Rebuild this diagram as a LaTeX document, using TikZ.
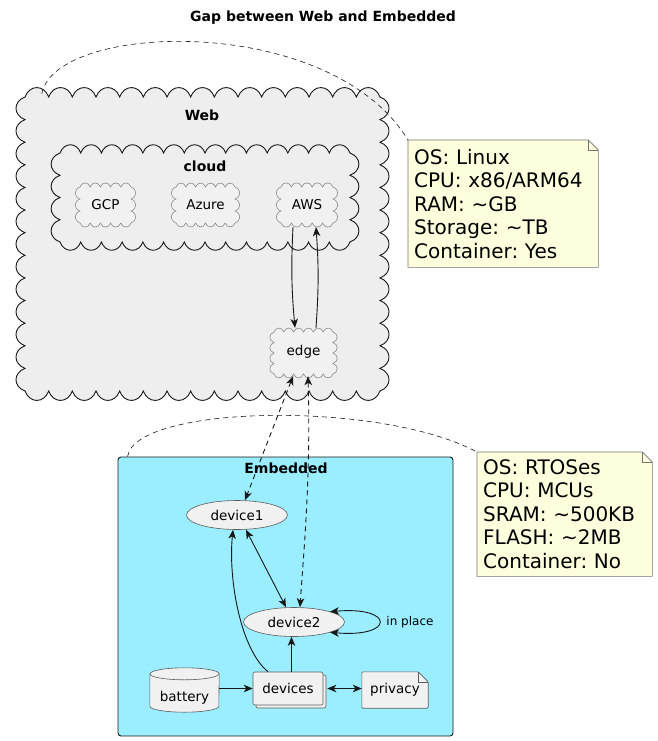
\documentclass[tikz,border=0pt]{standalone}
\usepackage{fontspec}
\setmainfont{DejaVu Sans}
\usetikzlibrary{arrows.meta,shapes.geometric,shadows,calc}
\definecolor{webfill}{HTML}{EEEEEE}
\definecolor{nodefill}{HTML}{F1F1F1}
\definecolor{embfill}{HTML}{9AEEFF}
\definecolor{notefill}{HTML}{FEFFDD}
\definecolor{ink}{HTML}{181818}
\definecolor{cloudline}{HTML}{888888}
\pgfdeclarelayer{contain}
\pgfdeclarelayer{shapebg}
\pgfsetlayers{contain,shapebg,main}
\frenchspacing
% scalloped rectangle: style, x1, y1, x2, y2, nx, ny
\newcommand\scallop[7]{%
 \path[#1] (#2,#3)
  \foreach \i in {1,...,#6}{ to[bend left=70,looseness=1.45] ({#2+(#4-#2)*\i/#6},#3) }
  \foreach \i in {1,...,#7}{ to[bend left=70,looseness=1.45] (#4,{#3+(#5-#3)*\i/#7}) }
  \foreach \i in {1,...,#6}{ to[bend left=70,looseness=1.45] ({#4-(#4-#2)*\i/#6},#5) }
  \foreach \i in {1,...,#7}{ to[bend left=70,looseness=1.45] (#2,{#5-(#5-#3)*\i/#7}) }
  -- cycle;}
\begin{document}
\begin{tikzpicture}[x=1pt,y=-1pt,
  >={Stealth[length=9pt,width=7.5pt,inset=2.5pt]},
  txt/.style={font=\fontsize{13.5}{16}\selectfont, inner sep=0pt},
  grouplbl/.style={font=\fontsize{14}{16}\selectfont\bfseries, inner sep=0pt},
  bigcloud/.style={draw=ink, line width=0.9pt, fill=webfill},
  smallcloud/.style={draw=cloudline, line width=0.6pt, fill=nodefill},
  box/.style={rectangle, inner sep=0pt},
  link/.style={draw=ink, line width=0.9pt},
  dlink/.style={link, dash pattern=on 5pt off 4pt},
  notebg/.style={draw=ink!60, fill=notefill, line width=0.6pt},
  notetxt/.style={rectangle, inner xsep=6pt, inner ysep=0pt, align=left,
    font=\fontsize{20}{23.5}\selectfont},
  dev/.style={ellipse, draw=ink!70, fill=nodefill, line width=0.6pt,
    minimum width=101pt, minimum height=29pt, inner sep=0pt,
    font=\fontsize{13.5}{16}\selectfont},
  comp/.style={rectangle, rounded corners=2pt, draw=ink!70, fill=nodefill,
    line width=0.6pt, minimum width=70pt, minimum height=33pt, inner sep=0pt,
    font=\fontsize{13.5}{16}\selectfont,
    copy shadow={shadow xshift=3pt, shadow yshift=-3pt}},
  shapeline/.style={draw=ink!70, fill=nodefill, line width=0.6pt}
]
\useasboundingbox (0,0) rectangle (658,741);

% title
\node[font=\fontsize{14}{16}\selectfont\bfseries, inner sep=0pt] (title) at (323,18) {Gap between Web and Embedded};

% ---------- containers ----------
\begin{pgfonlayer}{contain}
  \scallop{bigcloud}{25}{97}{380}{391}{15}{13}
  \node[box, minimum width=355pt, minimum height=294pt] (web) at (202.5,244) {};
  \scallop{bigcloud}{60}{153}{350}{242}{14}{4}
  \node[box, minimum width=290pt, minimum height=89pt] (cloudgrp) at (205,197.5) {};
  \node[rectangle, draw=ink, line width=0.9pt, fill=embfill, rounded corners=3pt,
        minimum width=335pt, minimum height=279pt, inner sep=0pt] (emb) at (285.5,596.5) {};
\end{pgfonlayer}
\node[grouplbl] (weblbl) at (202,115) {Web};
\node[grouplbl] (cloudlbl) at (205,166) {cloud};
\node[grouplbl] (emblbl) at (286,468) {Embedded};

% ---------- small clouds ----------
\begin{pgfonlayer}{shapebg}
  \scallop{smallcloud}{80}{187}{131}{223}{5}{3}
  \scallop{smallcloud}{176}{187}{235}{223}{6}{3}
  \scallop{smallcloud}{281}{187}{333}{223}{5}{3}
  \scallop{smallcloud}{274}{332}{333}{374}{6}{4}
\end{pgfonlayer}
\node[box, txt, minimum width=59pt, minimum height=44pt] (gcp) at (105.5,205) {GCP};
\node[box, txt, minimum width=67pt, minimum height=44pt] (azure) at (205.5,205) {Azure};
\node[box, txt, minimum width=60pt, minimum height=44pt] (aws) at (307,205) {AWS};
\node[box, txt, minimum width=67pt, minimum height=48pt] (edge) at (303.5,352) {edge};

% ---------- notes ----------
\node[notetxt, anchor=north west, minimum width=190pt, minimum height=127pt, text width=178pt]
  (webnote) at (408,140) {OS: Linux\\CPU: x86/ARM64\\RAM: \textasciitilde GB\\Storage: \textasciitilde TB\\Container: Yes};
\node[notetxt, anchor=north west, minimum width=175pt, minimum height=124pt, text width=163pt]
  (embnote) at (477,452) {OS: RTOSes\\CPU: MCUs\\SRAM: \textasciitilde 500KB\\FLASH: \textasciitilde 2MB\\Container: No};
\begin{pgfonlayer}{shapebg}
  \foreach \n in {webnote,embnote}{
    \path[notebg] (\n.north west) -- ([xshift=-10pt]\n.north east) -- ([yshift=-10pt]\n.north east)
      -- (\n.south east) -- (\n.south west) -- cycle;
    \draw[notebg, fill=none] ([xshift=-10pt]\n.north east) |- ([yshift=-10pt]\n.north east);
  }
\end{pgfonlayer}

% ---------- embedded nodes ----------
\node[dev] (device1) at (237,515) {device1};
\node[dev] (device2) at (294,622) {device2};
\node[comp] (devices) at (288,688.5) {devices};
\node[box, txt, minimum width=69pt, minimum height=44pt] (battery) at (184.5,690) {};
\node[txt] (batterytxt) at (184.5,698) {battery};
\node[box, txt, minimum width=66pt, minimum height=36pt] (privacy) at (395,690) {privacy};
\node[font=\fontsize{12}{14}\selectfont, inner sep=0pt] (inplace) at (410,622) {in place};
\begin{pgfonlayer}{shapebg}
  % cylinder
  \path[shapeline] ([yshift=-6pt]battery.north west) -- ([yshift=6pt]battery.south west)
     arc[start angle=180, end angle=360, x radius=34.5pt, y radius=6pt]
     -- ([yshift=-6pt]battery.north east)
     arc[start angle=0, end angle=180, x radius=34.5pt, y radius=6pt] -- cycle;
  \draw[shapeline, fill=none] ([yshift=-6pt]battery.north west)
     arc[start angle=180, end angle=360, x radius=34.5pt, y radius=6pt];
  % document
  \path[shapeline, rounded corners=1pt] (privacy.north west) -- ([xshift=-10pt]privacy.north east)
     -- ([yshift=-10pt]privacy.north east) -- (privacy.south east) -- (privacy.south west) -- cycle;
  \draw[shapeline, fill=none] ([xshift=-10pt]privacy.north east) |- ([yshift=-10pt]privacy.north east);
\end{pgfonlayer}

% ---------- connectors ----------
\draw[link, ->] ([xshift=-14pt]aws.south) to[bend right=4] ([xshift=-8.5pt]edge.north);
\draw[link, ->] ([xshift=12.5pt]edge.north) to[bend right=4] ([xshift=9pt]aws.south);
\draw[dlink, <->] ([xshift=-10.5pt]edge.south) -- ([xshift=8pt]device1.north);
\draw[dlink, <->] ([xshift=4.5pt]edge.south) .. controls (311,480) and (303,560) .. ([xshift=6pt]device2.north);
\draw[link, <->] ([xshift=9pt]device1.south) -- ([xshift=-8pt]device2.north);
\draw[link, <->] ([xshift=36pt,yshift=10.3pt]device2.center) .. controls (395,606) and (395,638) .. ([xshift=36pt,yshift=-10.3pt]device2.center);
\draw[link, ->] ([xshift=-20pt]devices.north) .. controls (241,650) and (228,580) .. ([xshift=-4pt]device1.south);
\draw[link, ->] ([xshift=3.5pt]devices.north) -- ([xshift=3.5pt]devices.north |- device2.south);
\draw[link, ->] (battery.east |- devices) -- (devices.west);
\draw[link, <->] ([xshift=4pt]devices.east) -- (privacy.west |- devices);

% note connectors
\draw[link, line width=0.6pt, dash pattern=on 5pt off 4pt] ([xshift=17pt,yshift=3pt]web.north west)
  .. controls (55,22) and (330,12) .. (webnote.north west);
\draw[link, line width=0.6pt, dash pattern=on 5pt off 4pt] ([xshift=10pt]emb.north west)
  .. controls (135,405) and (380,400) .. (embnote.north west);
\end{tikzpicture}
\end{document}
